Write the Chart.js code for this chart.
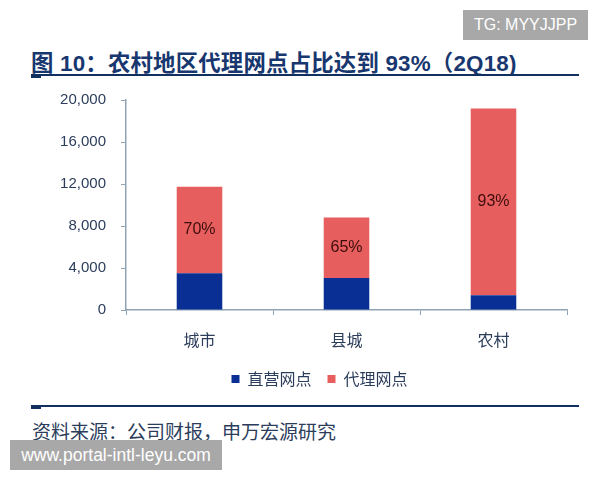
<!DOCTYPE html>
<html>
<head>
<meta charset="utf-8">
<script src="https://cdn.jsdelivr.net/npm/chart.js@4.4.0/dist/chart.umd.min.js"></script>
<style>
  body { margin: 0; background: #fff; font-family: "Liberation Sans", "Noto Sans CJK SC", sans-serif; }
  #page { position: relative; width: 600px; height: 480px; overflow: hidden; }
  #title { position: absolute; left: 31px; top: 45px; font-size: 22.4px; font-weight: bold; color: #18376f; white-space: nowrap; letter-spacing: 0.2px; }
  .rule { position: absolute; left: 31px; width: 548px; height: 2px; background: #12305f; }
  .rule::before { content: ""; position: absolute; left: 0; top: 0; width: 10px; height: 4px; background: #12305f; }
  #source { position: absolute; left: 32px; top: 417px; font-size: 19px; color: #2c3d5c; white-space: nowrap; }
  .mark { position: absolute; background: #a8a8a8; color: #fff; white-space: nowrap; line-height: 30px; height: 30px; }
  #wrap { position: absolute; left: 0; top: 0; width: 600px; height: 400px; }
</style>
</head>
<body>
<div id="page">
  <div id="title">图 10：农村地区代理网点占比达到 93%（2Q18)</div>
  <div class="rule" style="top:74px"></div>
  <div id="wrap"><canvas id="chart"></canvas></div>
  <div class="rule" style="top:405px"></div>
  <div id="source">资料来源：公司财报，申万宏源研究</div>
  <div class="mark" style="left:463px; top:10px; width:125px; text-align:center; font-size:16px;">TG: MYYJJPP</div>
  <div class="mark" style="left:10px; top:440px; width:212px; text-align:center; font-size:17.5px;">www.portal-intl-leyu.com</div>
</div>
<script>
const categories = ['城市', '县城', '农村'];
const directOutlets = [3500, 3050, 1400];
const agentOutlets = [8250, 5750, 17800];
const agentShareLabels = ['70%', '65%', '93%'];
const yTicks = [0, 4000, 8000, 12000, 16000, 20000];

const textColor = '#2c3d5c';
const axisColor = '#8fa3b5';

// percentage labels in the middle of the red segment
const shareLabelPlugin = {
  id: 'shareLabels',
  afterDatasetsDraw(chart) {
    const meta = chart.getDatasetMeta(1);
    const ctx = chart.ctx;
    ctx.save();
    ctx.font = '16px "Liberation Sans", sans-serif';
    ctx.fillStyle = '#3d0d0d';
    ctx.textAlign = 'center';
    ctx.textBaseline = 'middle';
    meta.data.forEach((bar, i) => {
      const mid = (bar.y + bar.base) / 2;
      ctx.fillText(agentShareLabels[i], bar.x, mid);
    });
    ctx.restore();
  }
};

// legend sits a bit right of the canvas centre in the original
const legendShift = {
  id: 'legendShift',
  afterLayout(chart) {
    chart.legend.left += 36;
    chart.legend.right += 36;
  }
};

new Chart(document.getElementById('chart'), {
  type: 'bar',
  data: {
    labels: categories,
    datasets: [
      { label: '直营网点', data: directOutlets, backgroundColor: '#0a2f94', barPercentage: 0.31, categoryPercentage: 1 },
      { label: '代理网点', data: agentOutlets, backgroundColor: '#e65f5e', barPercentage: 0.31, categoryPercentage: 1 }
    ]
  },
  options: {
    responsive: true,
    maintainAspectRatio: false,
    animation: false,
    layout: { padding: { top: 100, right: 33, bottom: 3, left: 0 } },
    plugins: {
      legend: {
        position: 'bottom',
        labels: {
          boxWidth: 8, boxHeight: 8, padding: 16, color: textColor,
          font: { size: 16, family: '"Noto Sans CJK SC", sans-serif' }
        }
      },
      tooltip: { enabled: false }
    },
    scales: {
      x: {
        stacked: true,
        grid: { display: true, drawOnChartArea: false, drawTicks: true, tickLength: 5, color: axisColor, offset: true },
        border: { color: axisColor, width: 1.5 },
        ticks: { color: textColor, padding: 15, font: { size: 16, family: '"Noto Sans CJK SC", sans-serif' } },
        afterFit: scale => { scale.height = 45; }
      },
      y: {
        stacked: true,
        min: 0,
        max: 20000,
        afterBuildTicks: scale => { scale.ticks = yTicks.map(v => ({ value: v })); },
        grid: { display: true, drawOnChartArea: false, drawTicks: true, tickLength: 5, color: axisColor },
        border: { color: axisColor, width: 1.5 },
        ticks: {
          color: textColor, padding: 15,
          font: { size: 15, family: '"Liberation Sans", sans-serif' },
          callback: v => v.toLocaleString('en-US')
        },
        afterFit: scale => { scale.width = 126; }
      }
    }
  },
  plugins: [shareLabelPlugin, legendShift]
});
</script>
</body>
</html>
